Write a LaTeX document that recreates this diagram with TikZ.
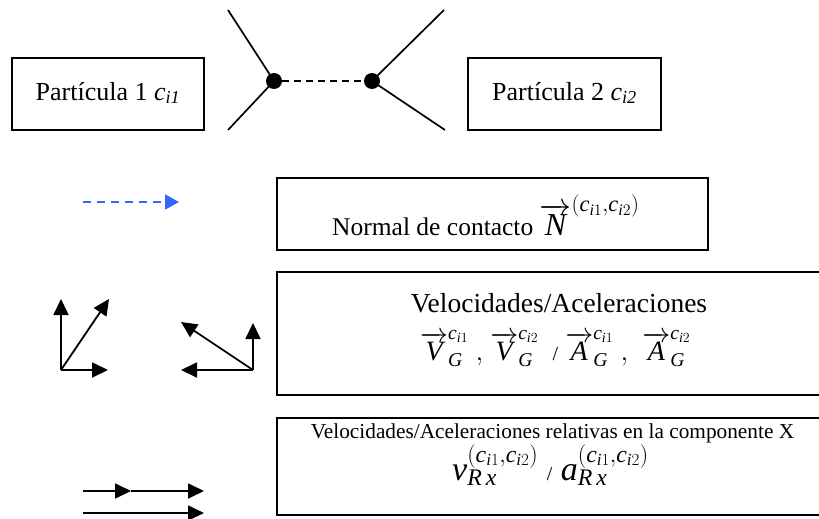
\documentclass[tikz,border=0pt]{standalone}
\usepackage{fix-cm}
\usepackage{fontspec}
\setmainfont{Liberation Serif}
\usetikzlibrary{arrows.meta}
\definecolor{arrowblue}{RGB}{51,102,255}
\newcommand\mI[1]{\mathit{#1}}
\begin{document}
\begin{tikzpicture}[x=1pt,y=-1pt,
  box/.style={draw, line width=1.6pt, inner sep=0pt},
  lbl/.style={inner sep=0pt, anchor=base},
  ln/.style={line width=1.7pt},
  vec/.style={line width=1.8pt, -{Triangle[length=16pt,width=15pt]}},
  dot/.style={circle, fill, inner sep=0pt, minimum size=16pt}]
\useasboundingbox (0,0) rectangle (819,519);
% boxes
\node[box, minimum width=192pt, minimum height=72pt] (b1) at (108,94) {};
\node[box, minimum width=193pt, minimum height=72pt] (b2) at (564.5,94) {};
\node[box, minimum width=431pt, minimum height=72pt] (bN) at (492.5,214) {};
\node[box, minimum width=551pt, minimum height=123pt] (bV) at (552.5,333.5) {};
\node[box, minimum width=551pt, minimum height=97pt] (bR) at (552.5,466.5) {};
% texts
\node[lbl] (t1) at (108,100) {\fontsize{26}{30}\selectfont Partícula 1 $\mI{c}_{\mI{i1}}$};
\node[lbl] (t2) at (564.5,100) {\fontsize{26}{30}\selectfont Partícula 2 $\mI{c}_{\mI{i2}}$};
\node[lbl, anchor=base west] (tN) at (332,235) {\fontsize{25.5}{30}\selectfont Normal de contacto {\fontsize{32}{36}\selectfont$\overrightarrow{\mI{N}}^{(\mI{c}_{\mI{i}1}\mathrm{,}\mI{c}_{\mI{i}2})}$}};
\node[lbl] (tV1) at (559,312) {\fontsize{27.5}{32}\selectfont Velocidades/Aceleraciones};
\node[lbl, anchor=base west] (tV2) at (420,360) {\fontsize{28}{32}\selectfont
  $\overrightarrow{\mI{V}}^{\mI{c}_{\mI{i}1}}_{\mI{G}}\ \mathrm{,}\ \overrightarrow{\mI{V}}^{\mI{c}_{\mI{i}2}}_{\mI{G}}\ \ \mbox{\fontsize{20}{24}\selectfont /}\ \overrightarrow{\mI{A}}^{\mI{c}_{\mI{i}1}}_{\mI{G}}\ \mathrm{,}\ \ \overrightarrow{\mI{A}}^{\mI{c}_{\mI{i}2}}_{\mI{G}}$};
\node[lbl] (tR1) at (552.5,438) {\fontsize{21.3}{25}\selectfont Velocidades/Aceleraciones relativas en la componente X};
\node[lbl, anchor=base west] (tR2) at (452,480) {\fontsize{34}{38}\selectfont
  $\mI{v}^{(\mI{c}_{\mI{i}1}\mathrm{,}\mI{c}_{\mI{i}2})}_{\mI{R}\,\mI{x}}\ \mbox{\fontsize{20}{24}\selectfont /}\ \mI{a}^{(\mI{c}_{\mI{i}1}\mathrm{,}\mI{c}_{\mI{i}2})}_{\mI{R}\,\mI{x}}$};
% contact sketch
\node[dot] (d1) at (274,81) {};
\node[dot] (d2) at (372,81) {};
\coordinate (u1) at (228,10);
\coordinate (w1) at (228,130);
\coordinate (u2) at (444,10);
\coordinate (w2) at (445,130);
\draw[ln] (u1) -- (d1.center) -- (w1);
\draw[ln] (u2) -- (d2.center) -- (w2);
\draw[line width=1.8pt, dash pattern=on 7pt off 5pt] (d1) -- (d2);
% blue dashed arrow
\coordinate (bs) at (83,202);
\coordinate (be) at (179,202);
\draw[line width=2pt, arrowblue, dash pattern=on 8pt off 6pt, -{Triangle[length=14pt,width=15pt]}] (bs) -- (be);
% vectors left
\coordinate (o1) at (61,370);
\coordinate (o1u) at (61,299);
\coordinate (o1r) at (108,370);
\coordinate (o1d) at (109,299);
\draw[vec] (o1) -- (o1u);
\draw[vec] (o1) -- (o1r);
\draw[vec] (o1) -- (o1d);
% vectors right
\coordinate (o2) at (253,370);
\coordinate (o2u) at (253,323);
\coordinate (o2l) at (181,370);
\coordinate (o2d) at (181,322);
\draw[vec] (o2) -- (o2u);
\draw[vec] (o2) -- (o2l);
\draw[vec] (o2) -- (o2d);
% bottom arrows
\coordinate (h1s) at (83,491);
\coordinate (h1m) at (131,491);
\coordinate (h1e) at (204,491);
\draw[vec] (h1s) -- (h1m);
\draw[vec] (h1m) -- (h1e);
\coordinate (h2s) at (83,513);
\coordinate (h2e) at (204,513);
\draw[vec] (h2s) -- (h2e);
\end{tikzpicture}
\end{document}
